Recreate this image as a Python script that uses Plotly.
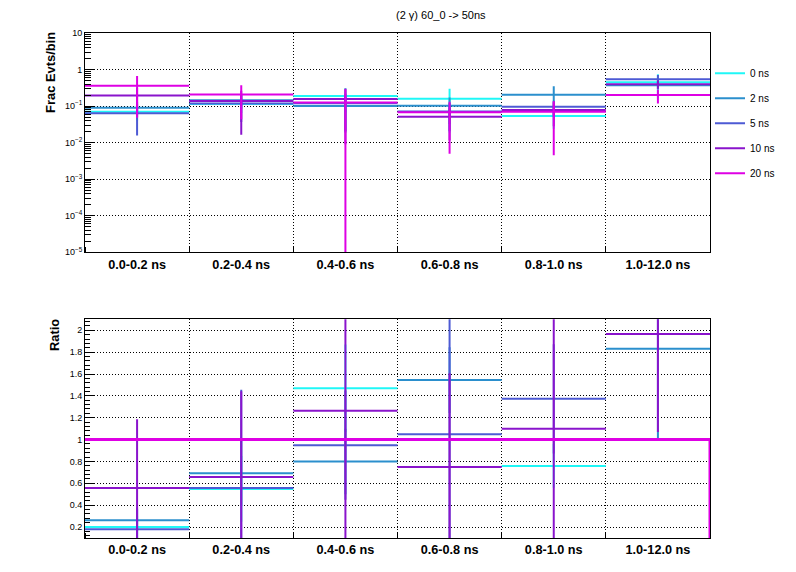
import plotly.graph_objects as go

# ---------------- data ----------------
categories = ["0.0-0.2 ns", "0.2-0.4 ns", "0.4-0.6 ns", "0.6-0.8 ns", "0.8-1.0 ns", "1.0-12.0 ns"]
series_names = ["0 ns", "2 ns", "5 ns", "10 ns", "20 ns"]

# fraction of events per bin (top pad)
frac_0ns = [0.0705, 0.115, 0.188, 0.159, 0.054, 0.452]
frac_2ns = [0.0905, 0.145, 0.101, 0.1025, 0.204, 0.370]
frac_5ns = [0.0637, 0.117, 0.119, 0.071, 0.0955, 0.545]
frac_10ns = [0.195, 0.139, 0.157, 0.0515, 0.078, 0.398]
frac_20ns = [0.358, 0.209, 0.125, 0.068, 0.0705, 0.202]

err_0ns = [0.03, 0.05, 0.12, 0.14, 0.03, 0.29]
err_2ns = [0.04, 0.06, 0.08, 0.07, 0.148, 0.08]
err_5ns = [0.048, 0.08, 0.10, 0.05, 0.045, 0.17]
err_10ns = [0.12, 0.1225, 0.148, 0.04, 0.05, 0.10]
err_20ns = [0.31, 0.165, 0.165, 0.063, 0.066, 0.084]

# ratio to 20 ns (bottom pad)
ratio_0ns = [0.20, 0.549, 1.469, 2.34, 0.759, 2.24]
ratio_2ns = [0.263, 0.693, 0.80, 1.544, 2.90, 1.83]
ratio_5ns = [0.18, 0.558, 0.949, 1.048, 1.373, 2.70]
ratio_10ns = [0.558, 0.657, 1.265, 0.75, 1.10, 1.966]
ratio_20ns = [1.0, 1.0, 1.0, 1.0, 1.0, 1.0]

rerr_0ns = [0.1, 0.3, 0.4, 0.2, 0.2, 0.1]
rerr_2ns = [0.1, 0.3, 0.3, 0.3, 0.3, 0.83]
rerr_5ns = [0.2, 0.897, 0.5, 1.2, 0.5, 0.3]
rerr_10ns = [0.629, 0.785, 1.3, 0.857, 1.2, 0.896]

colors = ["#1ff7f7", "#2b8fcd", "#4d5ad4", "#8a14cc", "#de00e4"]

frac = [frac_0ns, frac_2ns, frac_5ns, frac_10ns, frac_20ns]
ferr = [err_0ns, err_2ns, err_5ns, err_10ns, err_20ns]
ratio = [ratio_0ns, ratio_2ns, ratio_5ns, ratio_10ns]
rerr = [rerr_0ns, rerr_2ns, rerr_5ns, rerr_10ns]

nb = len(categories)
edges = list(range(nb + 1))
centers = [i + 0.5 for i in range(nb)]


def segments(vals):
    xs, ys = [], []
    for i, v in enumerate(vals):
        xs += [edges[i], edges[i + 1], None]
        ys += [v, v, None]
    return xs, ys


fig = go.Figure()
LW = 2

# top pad
for k, name in enumerate(series_names):
    sx, sy = segments(frac[k])
    fig.add_trace(go.Scatter(x=sx, y=sy, mode="lines", name=name, legendgroup=name,
                             line=dict(color=colors[k], width=LW), xaxis="x", yaxis="y",
                             hoverinfo="skip"))
    fig.add_trace(go.Scatter(x=centers, y=frac[k], mode="markers", showlegend=False,
                             legendgroup=name, marker=dict(size=0.1, color=colors[k]),
                             error_y=dict(type="data", array=ferr[k], visible=True, width=0,
                                          thickness=LW, color=colors[k]),
                             xaxis="x", yaxis="y"))

# bottom pad
for k in range(4):
    sx, sy = segments(ratio[k])
    fig.add_trace(go.Scatter(x=sx, y=sy, mode="lines", showlegend=False,
                             line=dict(color=colors[k], width=LW), xaxis="x2", yaxis="y2",
                             hoverinfo="skip"))
    fig.add_trace(go.Scatter(x=centers, y=ratio[k], mode="markers", showlegend=False,
                             marker=dict(size=0.1, color=colors[k]),
                             error_y=dict(type="data", array=rerr[k], visible=True, width=0,
                                          thickness=LW, color=colors[k]),
                             xaxis="x2", yaxis="y2"))

# reference (20 ns) drawn as a step histogram that drops to zero after the last bin
hx = [edges[0]] + edges[1:nb] + [edges[nb], edges[nb]]
hy = [ratio_20ns[0]] + ratio_20ns[1:nb] + [ratio_20ns[-1], 0]
fig.add_trace(go.Scatter(x=hx, y=hy, mode="lines", showlegend=False, line_shape="hv",
                         line=dict(color=colors[4], width=3), xaxis="x2", yaxis="y2",
                         hoverinfo="skip"))

FONT = "Liberation Sans, Arial, Helvetica, sans-serif"
grid = dict(showgrid=True, gridcolor="black", gridwidth=1, griddash="1px,2px")

log_major = [10.0 ** e for e in range(-5, 2)]
log_text = ["10<sup>\u22125</sup>", "10<sup>\u22124</sup>", "10<sup>\u22123</sup>",
            "10<sup>\u22122</sup>", "10<sup>\u22121</sup>", "1", "10"]
log_minor = [m * 10.0 ** e for e in range(-5, 1) for m in range(2, 10)]

xcommon = dict(range=[0, nb], tickmode="array", tickvals=centers, ticktext=categories,
               ticks="", showgrid=False, showline=True, linecolor="black", linewidth=1,
               mirror=True, zeroline=False,
               tickfont=dict(family=FONT, size=12.7, color="black", weight="bold"),
               minor=dict(tickmode="linear", tick0=0, dtick=1, ticks="inside", ticklen=5,
                          tickcolor="black", **grid))

fig.update_layout(
    width=796, height=572, autosize=False,
    margin=dict(l=85, r=86, t=33, b=34),
    paper_bgcolor="white", plot_bgcolor="white",
    font=dict(family=FONT, color="black"),
    xaxis=dict(domain=[0, 1], anchor="y", **xcommon),
    yaxis=dict(domain=[0.5657, 1.0], anchor="x", type="log", range=[-5, 1],
               tickmode="array", tickvals=log_major, ticktext=log_text,
               ticks="inside", ticklen=10, tickcolor="black",
               showline=True, linecolor="black", linewidth=1, mirror=True, zeroline=False,
               tickfont=dict(family=FONT, size=9, color="black"),
               minor=dict(tickmode="array", tickvals=log_minor, ticks="inside", ticklen=6,
                          tickcolor="black", showgrid=False),
               **grid),
    xaxis2=dict(domain=[0, 1], anchor="y2", **xcommon),
    yaxis2=dict(domain=[0.0, 0.433], anchor="x2", range=[0.1, 2.1],
                tickmode="linear", tick0=0, dtick=0.2,
                ticks="inside", ticklen=10, tickcolor="black",
                showline=True, linecolor="black", linewidth=1, mirror=True, zeroline=False,
                layer="below traces",
                tickfont=dict(family=FONT, size=9, color="black"),
                minor=dict(tickmode="linear", tick0=0, dtick=0.04, ticks="inside", ticklen=5,
                           tickcolor="black", showgrid=False),
                **grid),
    legend=dict(x=1.0, y=0.949, xanchor="left", yanchor="top",
                bgcolor="rgba(0,0,0,0)", tracegroupgap=6,
                font=dict(family=FONT, size=10, color="black")),
    showlegend=True,
    annotations=[
        dict(text="(2 \u03b3) 60_0 -> 50ns", xref="paper", yref="paper", x=0.5696, y=1.0356,
             showarrow=False, xanchor="center", yanchor="middle",
             font=dict(family=FONT, size=11, color="black")),
        dict(text="<b>Frac Evts/bin</b>", xref="paper", yref="paper", x=-0.0552, y=0.922,
             showarrow=False, textangle=-90, xanchor="center", yanchor="middle",
             font=dict(family=FONT, size=12.9, color="black")),
        dict(text="<b>Ratio</b>", xref="paper", yref="paper", x=-0.048, y=0.402,
             showarrow=False, textangle=-90, xanchor="center", yanchor="middle",
             font=dict(family=FONT, size=12.9, color="black")),
    ],
)

fig.write_html("out.html", config={"displayModeBar": False},
               post_script="document.body.style.margin='0';document.body.style.padding='0';")
